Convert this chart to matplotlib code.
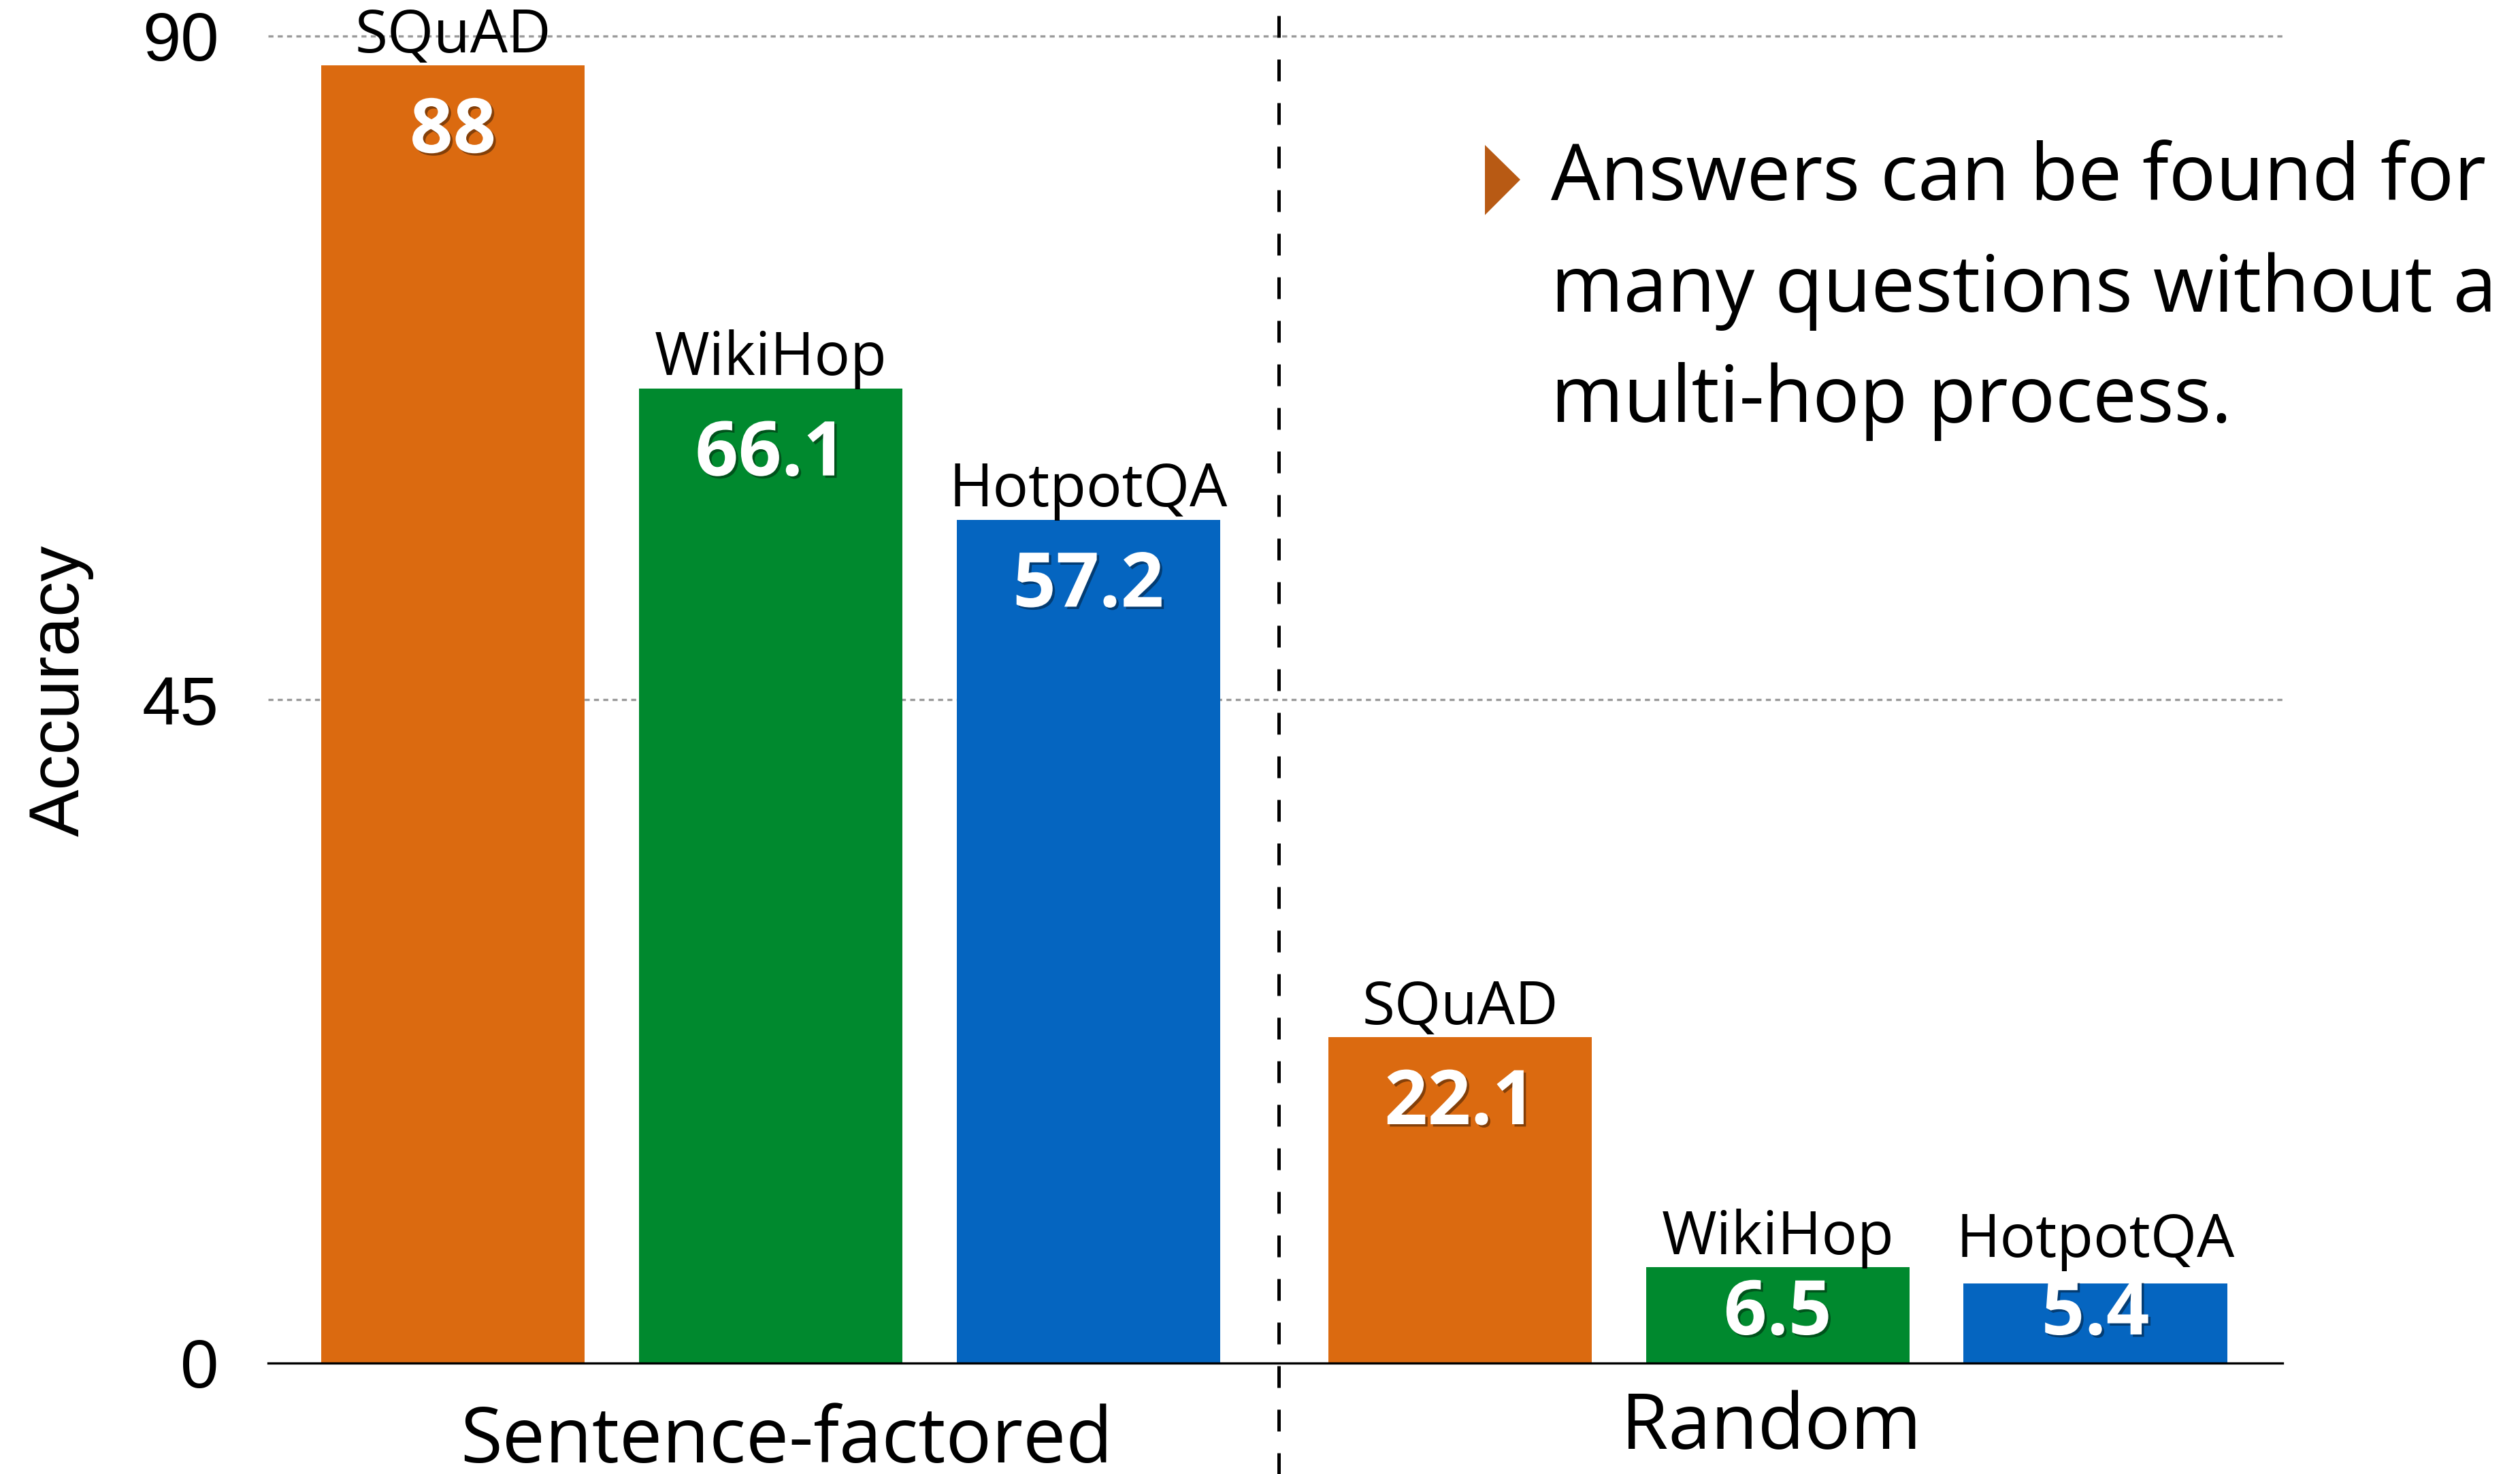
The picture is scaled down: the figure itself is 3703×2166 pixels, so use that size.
import matplotlib
matplotlib.use("Agg")
import matplotlib.pyplot as plt
import matplotlib.patheffects as pe
from matplotlib.patches import Polygon
import numpy as np

# ---- data ----
groups = ["Sentence-factored", "Random"]
datasets = ["SQuAD", "WikiHop", "HotpotQA"]
sentence_factored = [88, 66.1, 57.2]
random_acc = [22.1, 6.5, 5.4]
yticks = [0, 45, 90]
ytick_labels = ["0", "45", "90"]
ylabel = "Accuracy"
annotation_lines = ["Answers can be found for",
                    "many questions without a",
                    "multi-hop process."]

colors = ["#DB6A10", "#00892E", "#0565C0"]
CAL = "Open Sans"
ARIAL = "Liberation Sans"

W, H = 3703, 2166
dpi = 100
fig = plt.figure(figsize=(W / dpi, H / dpi), dpi=dpi)
ax = fig.add_axes([394 / W, 1 - 2003 / H, (3354 - 394) / W, (2003 - 53) / H])

group_gap = 1.17
values = [sentence_factored, random_acc]
centers = []
for gi, vals in enumerate(values):
    base = gi * (len(datasets) - 1 + group_gap)
    xs = base + np.arange(len(datasets))
    centers.append(xs.mean())
    ax.bar(xs, vals, width=0.83, color=colors, zorder=2)
    for x, v, name in zip(xs, vals, datasets):
        ax.text(x, max(v + 0.9, 7.2), name, ha="center", va="baseline",
                fontsize=63, family=CAL, color="black", zorder=5, clip_on=False)
        ax.text(x, max(v - 5.9, 1.94), f"{v:g}", ha="center", va="baseline",
                fontsize=80, family=CAL, fontweight="bold", color="white", zorder=5,
                path_effects=[pe.withSimplePatchShadow(offset=(2.5, -2.5),
                                                       shadow_rgbFace="black", alpha=0.4)])

# group labels
group_label_dx = [0.05, -0.02]
group_label_y = [-6.75, -5.8]
for c, g, dx, gy in zip(centers, groups, group_label_dx, group_label_y):
    ax.text(c + dx, gy, g, ha="center", va="baseline", fontsize=81, family=CAL,
            color="black", clip_on=False)

ax.set_xlim(-0.582, 5.759)
ax.set_ylim(0, 90)

# grid lines
for yv in yticks[1:]:
    ax.axhline(yv, color="#9a9a9a", lw=2.4, ls=(0, (2.2, 1.9)), zorder=1, clip_on=False)

# separator
sep_x = 2.6
ax.axvline(sep_x, ymin=-0.084, ymax=1.027, clip_on=False, color="black",
           lw=3.6, ls=(0, (6.4, 6.4)), zorder=3)

ax.set_xticks([])
ax.set_yticks(yticks)
ax.set_yticklabels(ytick_labels, fontsize=73, family=ARIAL)
ax.tick_params(axis="y", length=0, pad=52)
for s in ["top", "right", "left"]:
    ax.spines[s].set_visible(False)
ax.spines["bottom"].set_color("black")
ax.spines["bottom"].set_linewidth(2.4)
ax.spines["bottom"].set_zorder(4)

fig.text(89 / W, 1 - 1015 / H, ylabel, rotation=90, ha="center", va="center",
         fontsize=75, family=ARIAL)

# annotation
tri = Polygon([[2182 / W, 1 - 213 / H], [2234 / W, 1 - 264 / H], [2182 / W, 1 - 316 / H]],
              closed=True, transform=fig.transFigure, facecolor="#B85A14", edgecolor="none")
fig.patches.append(tri)
for line, by in zip(annotation_lines, [294, 458, 620]):
    fig.text(2279 / W, 1 - by / H, line, ha="left", va="baseline", fontsize=83,
             family=CAL, color="black")

fig.savefig("out.png", dpi=dpi, facecolor="white")
